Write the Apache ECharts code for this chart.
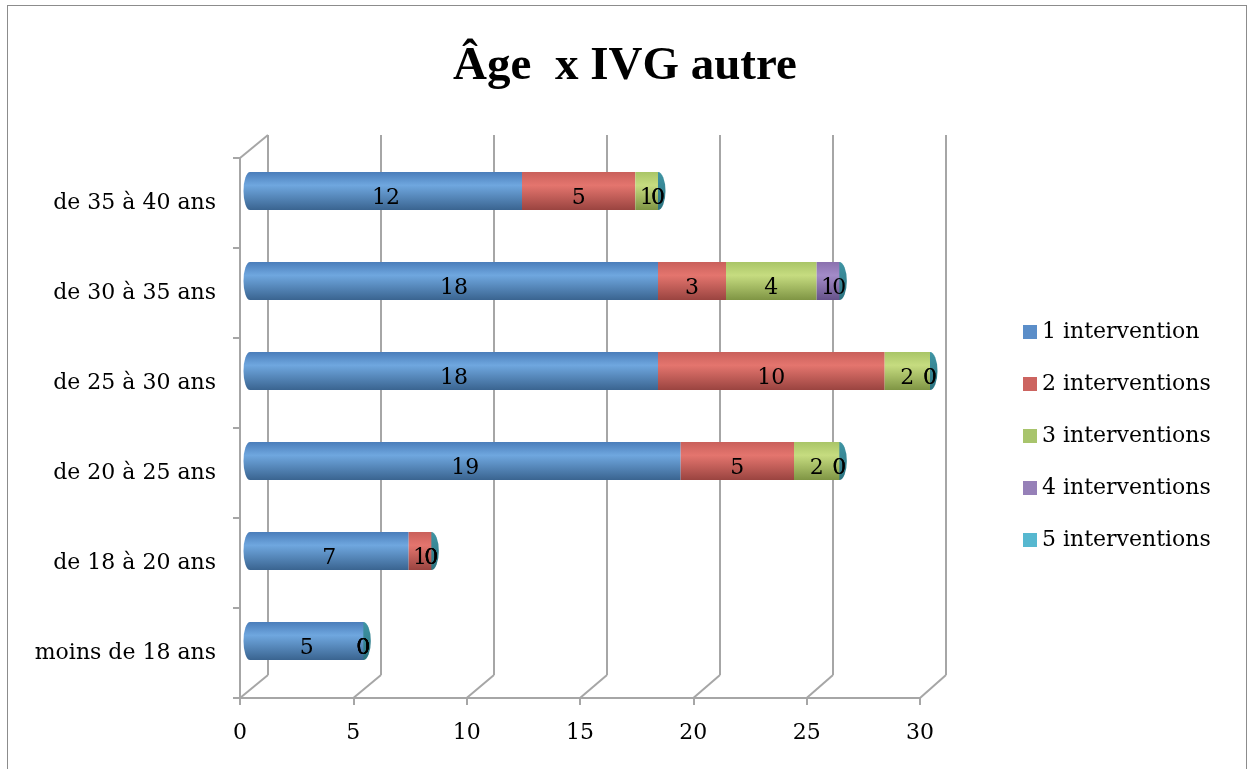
<!DOCTYPE html>
<html>
<head>
<meta charset="utf-8">
<script src="https://cdn.jsdelivr.net/npm/echarts@6/dist/echarts.min.js"></script>
<style>
  html, body { margin: 0; padding: 0; background: #fff; }
  #frame { position: absolute; left: 7px; top: 5px; width: 1240px; height: 780px; border: 1px solid #8c8c8c; box-sizing: border-box; }
  #chart { position: absolute; left: 0; top: 0; width: 1250px; height: 769px; }
</style>
</head>
<body>
<div id="frame"></div>
<div id="chart"></div>
<script>
  // catégories (de bas en haut)
  let ages = ['moins de 18 ans', 'de 18 à 20 ans', 'de 20 à 25 ans', 'de 25 à 30 ans', 'de 30 à 35 ans', 'de 35 à 40 ans']
  let seriesNames = ['1 intervention', '2 interventions', '3 interventions', '4 interventions', '5 interventions']
  let une = [5, 7, 19, 18, 18, 12]
  let deux = [0, 1, 5, 10, 3, 5]
  let trois = [0, 0, 2, 2, 4, 1]
  let quatre = [0, 0, 0, 0, 1, 0]
  let cinq = [0, 0, 0, 0, 0, 0]
  let xTicks = [0, 5, 10, 15, 20, 25, 30]

  let values = [une, deux, trois, quatre, cinq]
  let legendColors = ['#5b8ec9', '#cc6460', '#a8c46c', '#9680b8', '#57b8d0']
  let shades = [
    ['#4a7dba', '#6fa7df', '#3a6490'],
    ['#c9605b', '#e4756e', '#9a4440'],
    ['#a9c567', '#c6dc80', '#7f9544'],
    ['#8a70ae', '#a38bc8', '#66528a'],
    ['#4aa8c0', '#63c1d8', '#337d90']
  ]
  let font = 'DejaVu Serif'
  let titleFont = 'Liberation Serif'

  function cyl(c) {
    return new echarts.graphic.LinearGradient(0, 0, 0, 1, [
      {offset: 0, color: c[0]},
      {offset: 0.35, color: c[1]},
      {offset: 1, color: c[2]}
    ])
  }

  let totals = ages.map((a, i) => values.reduce((s, v) => s + v[i], 0))

  let container = echarts.init(document.getElementById('chart'))

  let series = values.map((v, k) => ({
    name: seriesNames[k],
    type: 'bar',
    stack: 'total',
    xAxisIndex: 2,
    yAxisIndex: 2,
    barWidth: 38,
    z: 3,
    itemStyle: { color: cyl(shades[k]) },
    label: {
      show: true,
      position: 'inside',
      offset: [0, 7],
      color: '#000',
      fontFamily: font,
      fontSize: 22
    },
    data: v
  }))

  // début arrondi du cylindre
  series.push({
    type: 'scatter',
    xAxisIndex: 2,
    yAxisIndex: 2,
    symbol: 'circle',
    symbolSize: [13, 38],
    z: 2,
    silent: true,
    itemStyle: { color: cyl(shades[0]), opacity: 1 },
    data: ages.map(() => 0)
  })
  // bout du cylindre (sous les barres et leurs étiquettes)
  series.push({
    type: 'scatter',
    xAxisIndex: 2,
    yAxisIndex: 2,
    symbol: 'circle',
    symbolSize: [15, 38],
    z: 2,
    silent: true,
    itemStyle: {
      opacity: 1,
      color: new echarts.graphic.LinearGradient(0, 0, 0, 1, [
        {offset: 0, color: '#3f95a4'},
        {offset: 1, color: '#2c7380'}
      ])
    },
    data: totals
  })

  let option = {
    animation: false,
    title: {
      text: 'Âge  x IVG autre',
      left: 'center',
      top: 38,
      textStyle: { fontFamily: titleFont, fontSize: 47, fontWeight: 'bold', color: '#000' }
    },
    legend: {
      orient: 'vertical',
      left: 1018,
      top: 316,
      itemWidth: 14,
      itemHeight: 14,
      itemGap: 30,
      icon: 'rect',
      textStyle: { fontFamily: font, fontSize: 22, color: '#000' },
      data: seriesNames.map((n, k) => ({ name: n, itemStyle: { color: legendColors[k] } }))
    },
    grid: [
      // paroi du fond
      { left: 268, right: 304, top: 135, bottom: 94 },
      // axes avant
      { left: 240, width: 680, top: 158, bottom: 71 },
      // barres
      { left: 250, width: 680, top: 146, bottom: 83 }
    ],
    xAxis: [
      {
        gridIndex: 0, type: 'value', min: 0, max: 30, interval: 5,
        axisLine: { show: false }, axisTick: { show: false }, axisLabel: { show: false },
        splitLine: { show: true, lineStyle: { color: '#a6a6a6', width: 2 } }
      },
      {
        gridIndex: 1, type: 'value', min: 0, max: 30, interval: 5,
        axisLine: { show: true, lineStyle: { color: '#a6a6a6', width: 2 } },
        axisTick: { show: true, length: 7, lineStyle: { color: '#a6a6a6', width: 2 } },
        axisLabel: { margin: 24, color: '#000', fontFamily: font, fontSize: 22 },
        splitLine: { show: false }
      },
      {
        gridIndex: 2, type: 'value', min: 0, max: 30, show: false, splitLine: { show: false }
      }
    ],
    yAxis: [
      { gridIndex: 0, type: 'category', data: ages, show: false },
      {
        gridIndex: 1, type: 'category', data: ages,
        axisLine: { show: true, lineStyle: { color: '#a6a6a6', width: 2 } },
        axisTick: { show: true, length: 7, lineStyle: { color: '#a6a6a6', width: 2 } },
        axisLabel: { margin: 24, color: '#000', fontFamily: font, fontSize: 22 }
      },
      { gridIndex: 2, type: 'category', data: ages, show: false }
    ],
    series: series
  }

  container.setOption(option)

  // diagonales de profondeur entre l'axe avant et la paroi du fond
  let rf = container.getModel().getComponent('grid', 1).coordinateSystem.getRect()
  let rb = container.getModel().getComponent('grid', 0).coordinateSystem.getRect()
  let lines = xTicks.map(t => {
    let a = container.convertToPixel({ gridIndex: 1 }, [t, ages[0]])
    let b = container.convertToPixel({ gridIndex: 0 }, [t, ages[0]])
    return { x1: a[0], y1: rf.y + rf.height, x2: b[0], y2: rb.y + rb.height }
  })
  lines.push({ x1: rf.x, y1: rf.y, x2: rb.x, y2: rb.y })

  container.setOption({
    graphic: lines.map(l => ({
      type: 'line',
      z: 1,
      shape: l,
      style: { stroke: '#a6a6a6', lineWidth: 2 }
    }))
  })
</script>
</body>
</html>
